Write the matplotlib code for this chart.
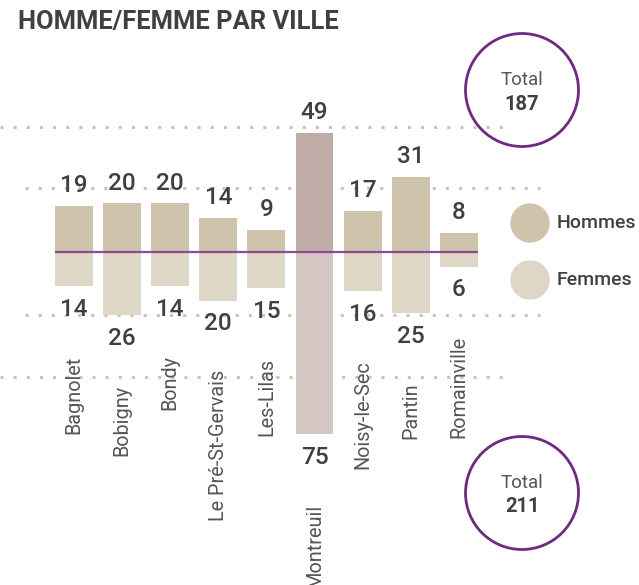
import numpy as np
import matplotlib
matplotlib.use("Agg")
import matplotlib.pyplot as plt
from matplotlib.patches import Circle

plt.rcParams['font.family'] = ['Roboto', 'DejaVu Sans']

villes = ["Bagnolet", "Bobigny", "Bondy", "Le Pré-St-Gervais", "Les-Lilas",
          "Montreuil", "Noisy-le-Sec", "Pantin", "Romainville"]
hommes = [19, 20, 20, 14, 9, 49, 17, 31, 8]
femmes = [14, 26, 14, 20, 15, 75, 16, 25, 6]
total_hommes = 187
total_femmes = 211

W, H = 639, 585
C_H = "#CFC4AB"
C_F = "#DFD7C6"
C_H_MONT = "#C0ACA6"
C_F_MONT = "#D4C6C2"
DARK = "#404040"
GREY = "#555555"
PURPLE = "#6E2A80"


def px(x, y):
    # pixel (from top-left) to figure fraction
    return x / W, 1 - y / H


def main():
    fig = plt.figure(figsize=(W / 100, H / 100), dpi=100)
    ax = fig.add_axes([0, 0, 1, 1])
    step = 48.1   # px per category
    unit = 2.43   # px per person
    x0 = 74       # px of first bar centre
    base = 252    # px of baseline
    ax.set_xlim(-x0 / step, (W - x0) / step)
    ax.set_ylim(-(H - base) / unit, base / unit)
    ax.axis("off")

    x = np.arange(len(villes))
    ch = [C_H_MONT if v == "Montreuil" else C_H for v in villes]
    cf = [C_F_MONT if v == "Montreuil" else C_F for v in villes]

    def dx(p):
        return (p - x0) / step

    # dotted guides
    dot = dict(color=C_H, lw=2.2, linestyle=(0, (1, 3.3)), zorder=1)
    ax.hlines([51.4, -51.4], dx(0), dx(508), **dot)
    ax.hlines([26.3, -25.8], dx(25), dx(540), **dot)

    ax.bar(x, hommes, width=0.79, color=ch, zorder=2)
    ax.bar(x, [-f for f in femmes], width=0.79, color=cf, zorder=2)
    ax.hlines(0, x[0] - 0.395, x[-1] + 0.395, color="#8A4B97", lw=1.6, zorder=3)

    for i, (h, f) in enumerate(zip(hommes, femmes)):
        ax.text(i, h + 8.3, str(h), ha="center", va="center", fontsize=17.5,
                color=DARK, fontweight="medium")
        ax.text(i, -f - 9.6, str(f), ha="center", va="center", fontsize=17.5,
                color=DARK, fontweight="medium")
        ax.text(i, -f - 28.5, villes[i], ha="center", va="top", rotation=90,
                fontsize=14.3, color=GREY)

    # title
    fig.text(*px(18, 22), "HOMME/FEMME PAR VILLE", fontsize=18.4, fontweight="bold",
             color=DARK, ha="left", va="center")

    # legend
    for yy, col, lab in [(223, C_H, "Hommes"), (280, C_F, "Femmes")]:
        fig.add_artist(Circle((530 / 100, (H - yy) / 100), 0.19, color=col,
                              transform=fig.dpi_scale_trans))
        fig.text(*px(557, yy), lab, fontsize=14, fontweight="medium", color=DARK,
                 ha="left", va="center")

    # total circles
    for cy, tot in [(90, total_hommes), (493, total_femmes)]:
        fig.add_artist(Circle((522 / 100, (H - cy) / 100), 0.565, fill=False,
                              ec=PURPLE, lw=2, transform=fig.dpi_scale_trans))
        fig.text(*px(522, cy - 10), "Total", fontsize=13.5, color=GREY,
                 ha="center", va="center")
        fig.text(*px(522, cy + 14), str(tot), fontsize=14.5, fontweight="bold",
                 color=DARK, ha="center", va="center")

    fig.savefig("out.png", dpi=100)


if __name__ == "__main__":
    main()
